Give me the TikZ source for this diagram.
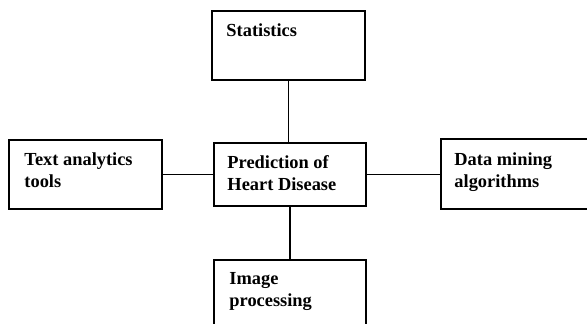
\documentclass[tikz,border=0pt]{standalone}
\usepackage{fontspec}
\setmainfont{Liberation Serif}
\usetikzlibrary{positioning}

\begin{document}
\begin{tikzpicture}[x=1pt,y=-1pt,
    box/.style={draw,line width=1.5pt,minimum width=153pt,inner sep=0pt},
    label/.style={anchor=north west,inner sep=0pt,align=left,
        font=\fontsize{18.4}{22}\selectfont\bfseries},
    link/.style={line width=1.4pt}]
    \useasboundingbox (0,0) rectangle (587,324);
    \clip (0,0) rectangle (587,324);

    % Boxes
    \node[box,minimum height=69pt] (stat) at (288.5,45.5) {};
    \node[box,minimum height=63pt,minimum width=152pt] (pred) at (290,174.5) {};
    \node[box,minimum height=69pt] (text) at (85.5,174.5) {};
    \node[box,minimum height=70pt] (data) at (517.5,174) {};
    \node[box,minimum height=69pt,minimum width=152pt] (img) at (290,294.5) {};

    % Texts
    \node[label] (statl) at ([shift={(15,13)}]stat.north west) {Statistics};
    \node[label] (predl) at ([shift={(14,13)}]pred.north west) {Prediction of\\Heart Disease};
    \node[label] (textl) at ([shift={(16,13)}]text.north west) {Text analytics\\tools};
    \node[label] (datal) at ([shift={(14,14)}]data.north west) {Data mining\\algorithms};
    \node[label] (imgl) at ([shift={(16,13)}]img.north west) {Image\\processing};

    % Links
    \draw[link] (stat.south) -- (stat.south |- pred.north);
    \draw[link] (pred.south) -- (img.north);
    \draw[link] (text.east) -- (text.east -| pred.west);
    \draw[link] (pred.east) -- (pred.east -| data.west);
\end{tikzpicture}
\end{document}
